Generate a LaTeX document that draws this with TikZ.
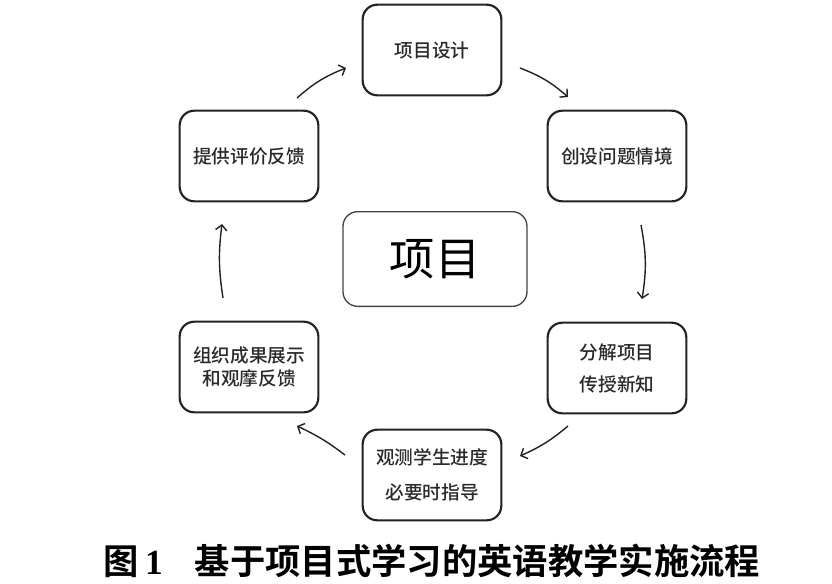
\documentclass[tikz,border=0pt]{standalone}
\usepackage{fontspec}
\setmainfont{Liberation Serif}
\newfontfamily\cjk{Noto Sans CJK SC}
\newfontfamily\cjkmed{Noto Sans CJK SC Medium}
\newfontfamily\cjkbold{Noto Sans CJK SC Bold}
\usetikzlibrary{arrows.meta}
\definecolor{inkc}{HTML}{222222}
\definecolor{txtc}{HTML}{2A2A2A}
\tikzset{
  stepbox/.style={draw=inkc, line width=1.6pt, rounded corners=11pt,
    minimum width=104pt, minimum height=68pt, align=center,
    text=txtc, font=\cjkmed\fontsize{14}{17}\selectfont, inner sep=0pt},
  centerbox/.style={draw=inkc!85, line width=1pt, rounded corners=11pt,
    minimum width=138pt, minimum height=71pt, inner sep=0pt,
    font=\cjk\fontsize{34}{40}\selectfont, text=black},
  flow/.style={draw=inkc, line width=1.05pt,
    -{Straight Barb[length=4pt,width=8.5pt,line width=1.05pt]}}
}
\begin{document}
\begin{tikzpicture}[x=0.75pt,y=-0.75pt]
\useasboundingbox (0,0) rectangle (832,583);
\node[stepbox] (s1) at (432,50) {项目设计};
\node[stepbox] (s2) at (617,156) {创设问题情境};
\node[stepbox] (s3) at (617,368) {分解项目\\[7pt]传授新知};
\node[stepbox] (s4) at (432,475) {观测学生进度\\[9pt]必要时指导};
\node[stepbox] (s5) at (249,367) {组织成果展示\\和观摩反馈};
\node[stepbox] (s6) at (249,156) {提供评价反馈};
\node[centerbox] (c) at (435,259) {项目};
% arrow end points
\coordinate (a1s) at (297,98);  \coordinate (a1e) at (346,68);
\coordinate (a2s) at (520,68);  \coordinate (a2e) at (568,97);
\coordinate (a3s) at (641,225); \coordinate (a3e) at (642,299);
\coordinate (a4s) at (568,426); \coordinate (a4e) at (520,456);
\coordinate (a5s) at (345,455); \coordinate (a5e) at (297,426);
\coordinate (a6s) at (223,298); \coordinate (a6e) at (222,224);
\draw[flow] (a1s) to[bend left=10] (a1e);
\draw[flow] (a2s) to[bend left=10] (a2e);
\draw[flow] (a3s) to[bend left=10] (a3e);
\draw[flow] (a4s) to[bend left=8] (a4e);
\draw[flow] (a5s) to[bend right=6] (a5e);
\draw[flow] (a6s) to[bend left=8] (a6e);
\node[font=\fontsize{26.5}{30}\selectfont, text=black] (cap) at (432,561)
  {{\cjkbold 图}\,\textbf{1}\hspace{0.9em}{\cjkbold 基于项目式学习的英语教学实施流程}};
\end{tikzpicture}
\end{document}
